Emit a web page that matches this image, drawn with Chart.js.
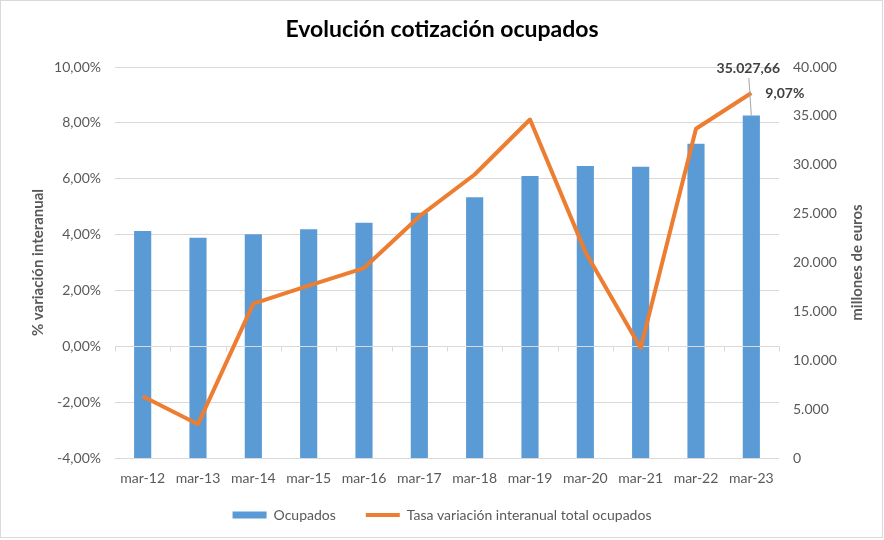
<!DOCTYPE html>
<html>
<head>
<meta charset="utf-8">
<script src="https://cdn.jsdelivr.net/npm/chart.js@4.4.0/dist/chart.umd.min.js"></script>
<style>
html,body{margin:0;padding:0;background:#fff;}
#wrap{width:884px;height:540px;position:relative;}
</style>
</head>
<body>
<div id="wrap"><canvas id="c" width="884" height="540"></canvas></div>
<script>
const categories = ['mar-12','mar-13','mar-14','mar-15','mar-16','mar-17','mar-18','mar-19','mar-20','mar-21','mar-22','mar-23'];
const ocupados = [23220, 22540, 22880, 23400, 24070, 25100, 26670, 28850, 29870, 29800, 32150, 35027.66];
const tasaVariacion = [-1.79, -2.79, 1.53, 2.17, 2.80, 4.65, 6.15, 8.12, 3.38, -0.06, 7.79, 9.07];
const lastBarLabel = '35.027,66';
const lastLineLabel = '9,07%';

const FONT = 'Lato, "Open Sans", sans-serif';
const GRAY = '#595959';

// let the category-axis labels extend past the axis box (no clipping)
Chart.CategoryScale.prototype._computeLabelArea = function(){ return null; };

function fmtPct(v){ return v.toFixed(2).replace('.', ',') + '%'; }
function fmtThousands(v){ return String(Math.round(v)).replace(/\B(?=(\d{3})+(?!\d))/g, '.'); }

const decor = {
  id: 'decor',
  beforeDraw(chart){
    const ctx = chart.ctx;
    ctx.save();
    ctx.fillStyle = '#fff';
    ctx.fillRect(0,0,chart.width,chart.height);
    ctx.restore();
  },
  beforeDatasetDraw(chart, args){
    if (args.index !== 1) return;
    const ctx = chart.ctx, x = chart.scales.x, y = chart.scales.y;
    const y0 = Math.round(y.getPixelForValue(0)) + 0.5;
    ctx.save();
    ctx.strokeStyle = '#d9d9d9';
    ctx.lineWidth = 1;
    ctx.beginPath();
    ctx.moveTo(x.left, y0); ctx.lineTo(x.right, y0);
    const n = categories.length;
    for (let i = 0; i <= n; i++) {
      const px = Math.round(x.left + (x.right - x.left) * i / n) + 0.5;
      ctx.moveTo(px, y0); ctx.lineTo(px, y0 + 5);
    }
    ctx.stroke();
    ctx.restore();
  },
  afterDatasetsDraw(chart){
    const ctx = chart.ctx;
    const barMeta = chart.getDatasetMeta(0);
    const lineMeta = chart.getDatasetMeta(1);
    const last = categories.length - 1;
    const bar = barMeta.data[last];
    const pt = lineMeta.data[last];
    ctx.save();
    ctx.strokeStyle = '#a6a6a6';
    ctx.lineWidth = 1;
    ctx.beginPath();
    ctx.moveTo(bar.x - 2.5, 78);
    ctx.lineTo(bar.x, bar.y);
    ctx.stroke();
    ctx.font = 'bold 14px ' + FONT;
    ctx.fillStyle = '#404040';
    ctx.textAlign = 'center';
    ctx.textBaseline = 'middle';
    ctx.fillText(lastBarLabel, bar.x - 3, 68);
    ctx.textAlign = 'left';
    ctx.fillText(lastLineLabel, pt.x + 14, pt.y + 1);
    ctx.restore();
  },
  afterDraw(chart){
    const ctx = chart.ctx;
    const y = chart.scales.y;
    ctx.save();
    ctx.font = 'bold 15px ' + FONT;
    ctx.fillStyle = GRAY;
    ctx.textAlign = 'center';
    ctx.textBaseline = 'middle';
    ctx.translate(857, (y.top + y.bottom) / 2);
    ctx.rotate(-Math.PI/2);
    ctx.fillText('millones de euros', 0, 0);
    ctx.restore();
    ctx.save();
    ctx.strokeStyle = '#d9d9d9';
    ctx.lineWidth = 1;
    ctx.strokeRect(0.5, 0.5, 882, 537);
    ctx.restore();
  }
};

new Chart(document.getElementById('c'), {
  type: 'bar',
  data: {
    labels: categories,
    datasets: [
      {
        type: 'bar',
        label: 'Ocupados',
        data: ocupados,
        yAxisID: 'y1',
        backgroundColor: '#5b9bd5',
        borderWidth: 0,
        categoryPercentage: 1,
        barPercentage: 0.31,
        order: 1,
        pointStyle: 'rect'
      },
      {
        type: 'line',
        label: 'Tasa variación interanual total ocupados',
        data: tasaVariacion,
        yAxisID: 'y',
        borderColor: '#ed7d31',
        backgroundColor: '#ed7d31',
        borderWidth: 4,
        pointRadius: 0,
        pointHoverRadius: 0,
        tension: 0,
        order: 0,
        pointStyle: 'line',
        borderJoinStyle: 'round'
      }
    ]
  },
  options: {
    responsive: false,
    animation: false,
    devicePixelRatio: 1,
    layout: { padding: { left: 0, right: 0, top: 0, bottom: 8 } },
    plugins: {
      title: {
        display: true,
        text: 'Evolución cotización ocupados',
        color: '#000',
        font: { family: FONT, size: 23, weight: 'bold' },
        padding: { top: 16, bottom: 23.4 }
      },
      legend: {
        display: true,
        position: 'bottom',
        labels: {
          usePointStyle: true,
          pointStyleWidth: 34,
          boxHeight: 7,
          color: GRAY,
          padding: 30,
          font: { family: FONT, size: 14 },
          sort: (a, b) => a.datasetIndex - b.datasetIndex
        }
      },
      tooltip: { enabled: false }
    },
    scales: {
      x: {
        position: 'bottom',
        offset: true,
        grid: { display: false, drawTicks: false },
        border: { display: false },
        ticks: { color: GRAY, font: { family: FONT, size: 14 }, padding: 12, maxRotation: 0, autoSkip: false },
        afterFit(s){ s.height = 20; }
      },
      y: {
        position: 'left',
        min: -4, max: 10,
        grid: { color: '#d9d9d9', drawTicks: false },
        border: { display: false },
        ticks: { stepSize: 2, color: GRAY, font: { family: FONT, size: 14 }, padding: 14, callback: v => fmtPct(v) },
        title: { display: true, text: '% variación interanual', color: GRAY, font: { family: FONT, size: 15, weight: 'bold' }, padding: { top: 29, bottom: 0 } },
        afterFit(s){ s.width = 115; }
      },
      y1: {
        position: 'right',
        min: 0, max: 40000,
        grid: { display: false, drawTicks: false },
        border: { display: false },
        ticks: { stepSize: 5000, color: GRAY, font: { family: FONT, size: 14 }, padding: 14, callback: v => fmtThousands(v) },
        afterFit(s){ s.width = 105; }
      }
    }
  },
  plugins: [decor]
});
</script>
</body>
</html>
